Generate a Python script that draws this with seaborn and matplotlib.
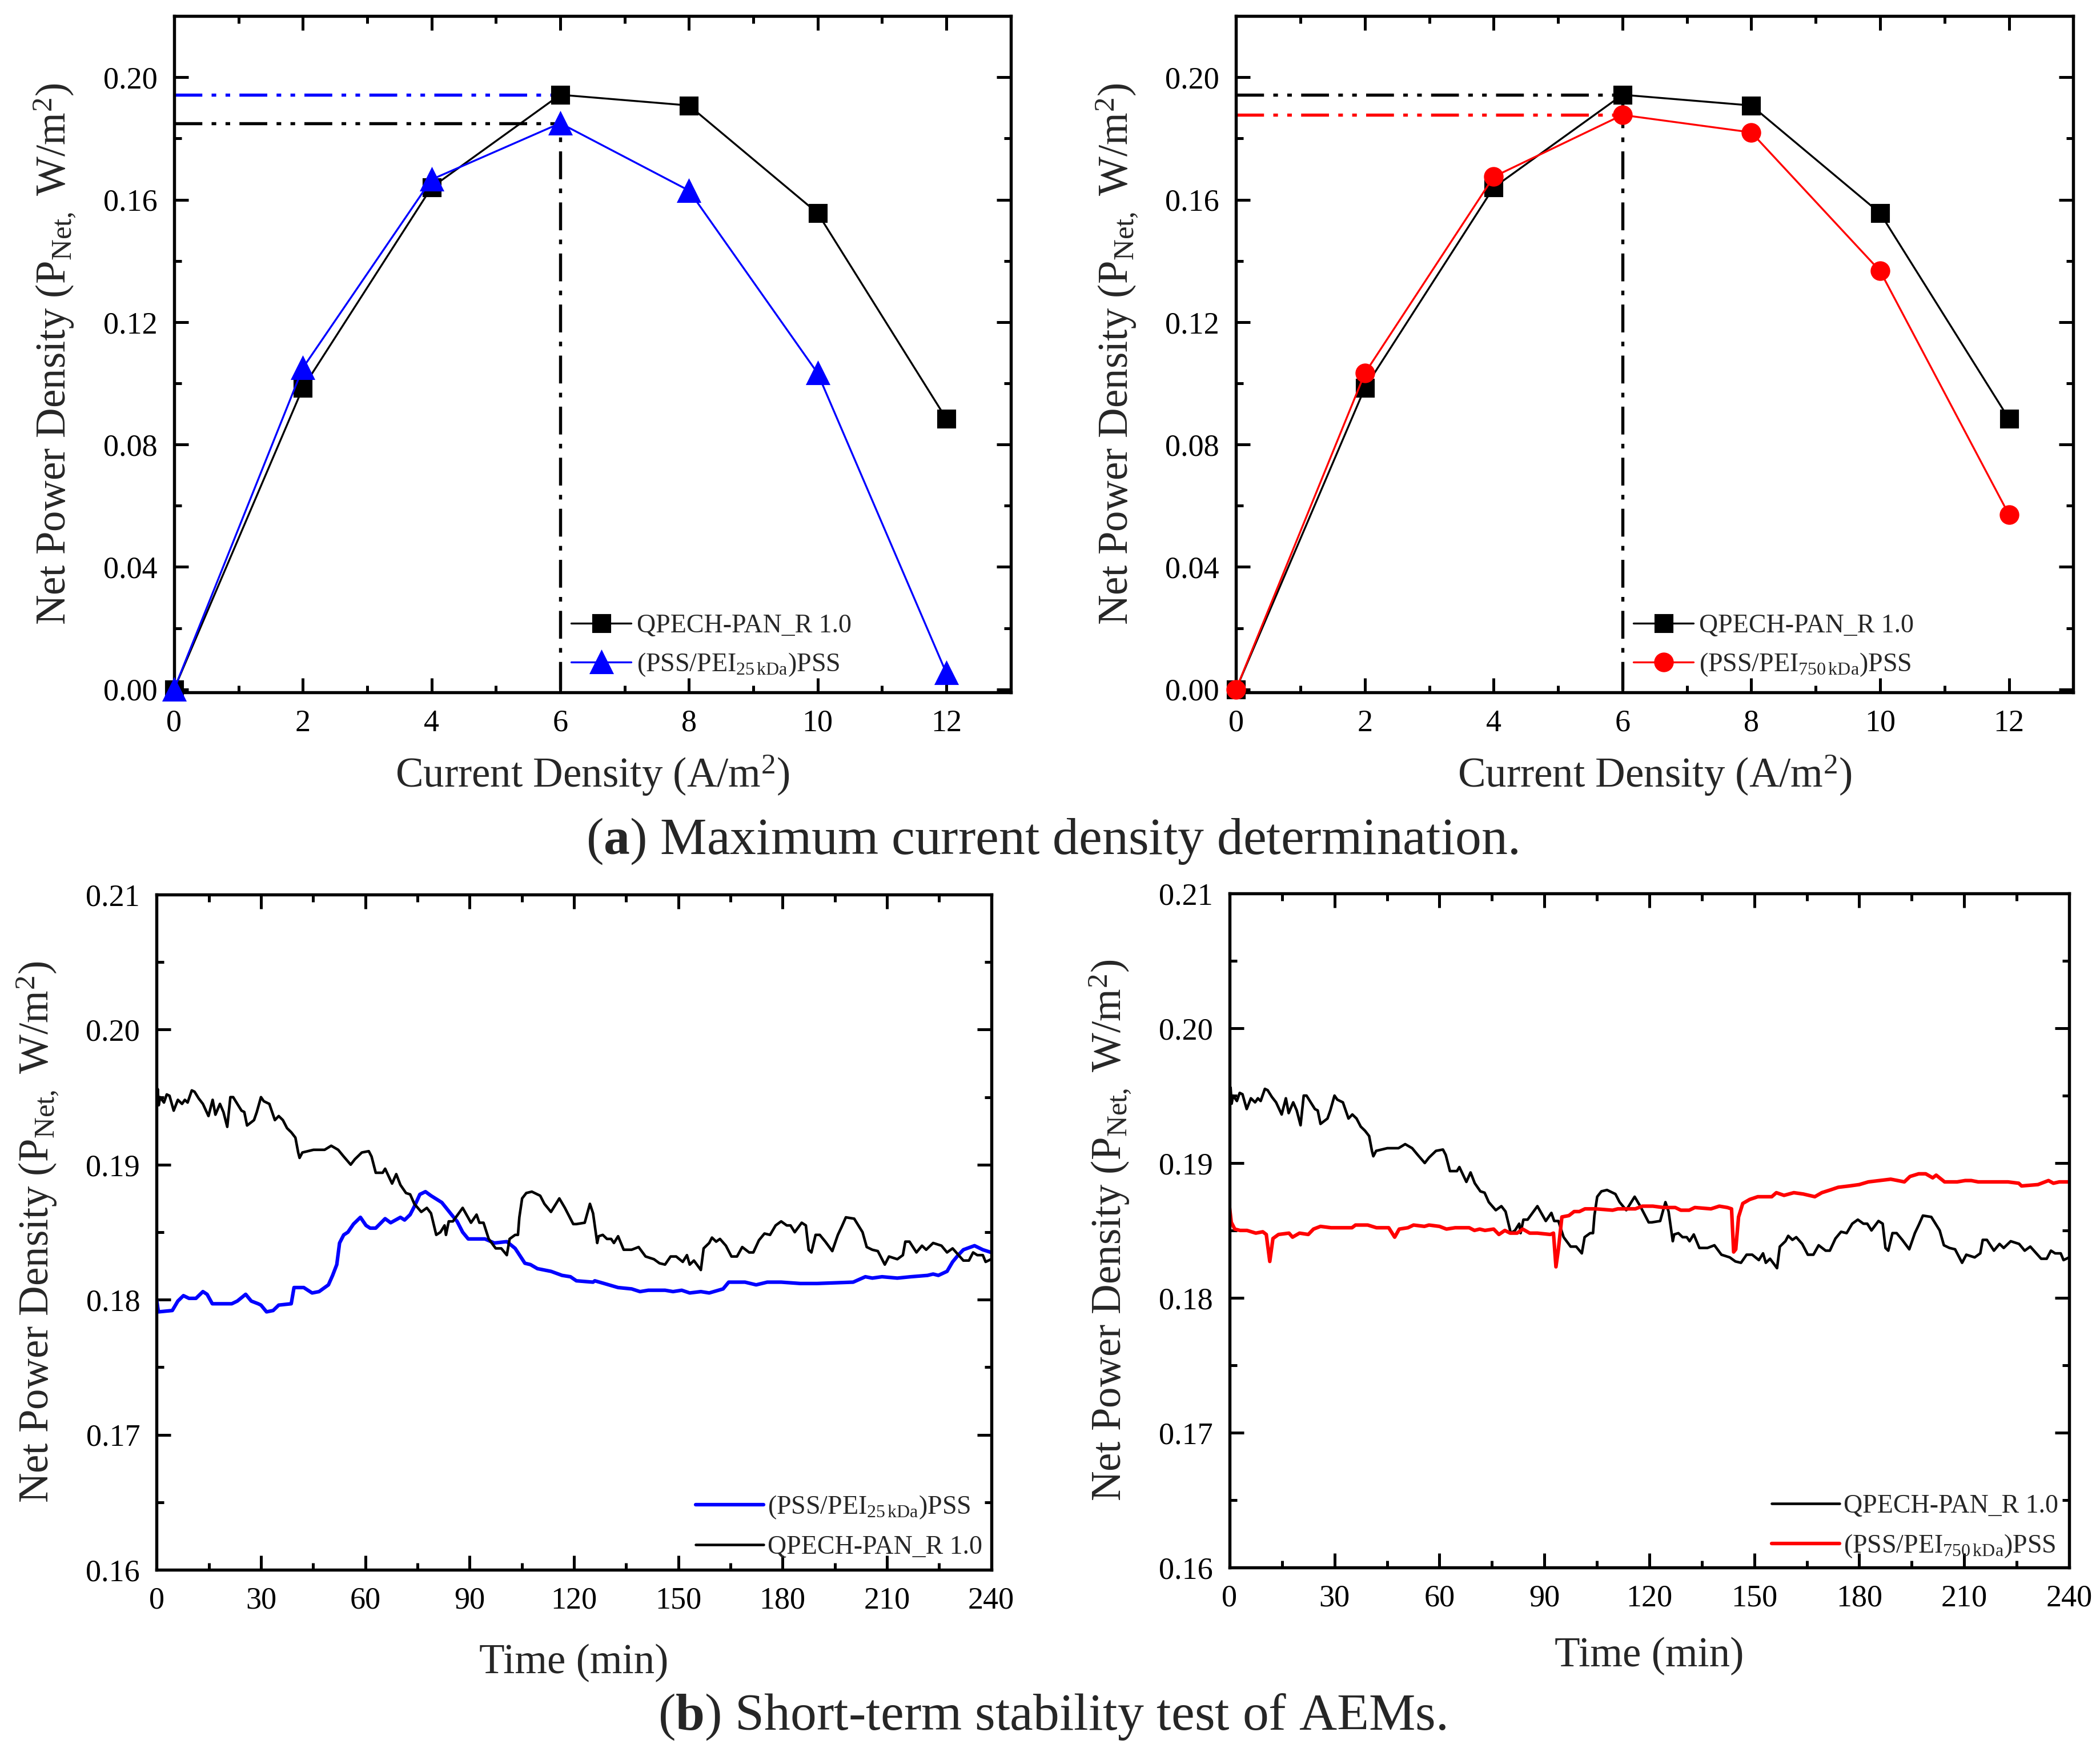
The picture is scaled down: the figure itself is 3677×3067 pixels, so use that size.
import matplotlib
matplotlib.use("Agg")
import matplotlib.pyplot as plt
import seaborn as sns
from matplotlib.ticker import MultipleLocator, AutoMinorLocator, FormatStrFormatter

# --- (a) current density sweep ---
current_density = [0, 2, 4, 6, 8, 10, 12]
qpech_power = [0.000, 0.0985, 0.1640, 0.1943, 0.1908, 0.1556, 0.0884]
pss25_power = [0.000, 0.1050, 0.1666, 0.1850, 0.1630, 0.1033, 0.0053]
pss750_power = [0.000, 0.1033, 0.1675, 0.1877, 0.1820, 0.1367, 0.0571]

# --- (b) stability test, black (QPECH-PAN_R 1.0) ---
black_time = [
    0, 0.3, 0.6, 1.0, 2.1, 2.9, 3.7, 4.9, 6.1, 7.3,
    8.1, 8.9, 10.1, 10.9, 12.1, 13.3, 14.9, 16.1, 16.9, 18.2,
    19.2, 20.3, 21.2, 22.0, 23.2, 24.4, 25.2, 26.0, 28.0, 28.8,
    30.0, 30.8, 32.4, 34.0, 35.1, 36.3, 37.5, 38.7, 39.9, 40.7,
    41.1, 41.9, 45.1, 48.3, 50.2, 52.2, 53.8, 55.8, 57.0, 59.0,
    61.0, 61.8, 63.0, 65.0, 65.7, 67.7, 68.9, 70.1, 71.7, 72.9,
    74.1, 76.1, 77.7, 78.9, 80.4, 81.6, 82.8, 83.2, 84.0, 85.2,
    88.0, 90.4, 92.0, 92.8, 94.0, 95.5, 97.5, 99.1, 100.7, 101.5,
    103.1, 103.9, 104.3, 105.1, 106.3, 107.9, 110.3, 111.5, 113.4, 115.8,
    117.4, 119.8, 120.7, 123.1, 124.6, 125.5, 126.7, 127.1, 128.3, 129.5,
    130.7, 131.5, 132.7, 134.3, 136.6, 138.6, 140.6, 143.0, 144.6, 146.2,
    147.8, 149.4, 151.3, 152.5, 153.3, 154.5, 156.5, 157.3, 158.9, 159.7,
    160.9, 162.0, 163.7, 165.3, 166.9, 168.4, 170.4, 171.6, 173.2, 174.8,
    176.4, 178.0, 179.6, 181.2, 182.3, 183.5, 185.5, 186.7, 187.5, 188.3,
    189.5, 190.7, 192.3, 194.3, 195.9, 197.0, 198.2, 200.6, 203.0, 204.2,
    205.8, 207.4, 209.4, 210.6, 213.0, 214.6, 215.3, 216.5, 218.5, 220.1,
    221.3, 223.3, 225.7, 227.3, 228.9, 232.0, 233.6, 234.8, 236.0, 237.6,
    238.4, 240.0,
]
black_power = [
    0.1940, 0.1956, 0.1944, 0.1950, 0.1946, 0.1952, 0.1951, 0.1940, 0.1948, 0.1945,
    0.1948, 0.1946, 0.1955, 0.1954, 0.1949, 0.1945, 0.1936, 0.1948, 0.1937, 0.1945,
    0.1939, 0.1928, 0.1950, 0.1950, 0.1945, 0.1940, 0.1939, 0.1929, 0.1933, 0.1939,
    0.1950, 0.1947, 0.1945, 0.1933, 0.1936, 0.1933, 0.1927, 0.1924, 0.1920, 0.1909,
    0.1905, 0.1909, 0.1911, 0.1911, 0.1914, 0.1911, 0.1906, 0.1900, 0.1904, 0.1909,
    0.1910, 0.1906, 0.1894, 0.1894, 0.1897, 0.1886, 0.1893, 0.1885, 0.1879, 0.1878,
    0.1871, 0.1865, 0.1868, 0.1864, 0.1848, 0.1850, 0.1855, 0.1848, 0.1858, 0.1858,
    0.1868, 0.1857, 0.1863, 0.1857, 0.1857, 0.1845, 0.1838, 0.1838, 0.1833, 0.1845,
    0.1848, 0.1848, 0.1861, 0.1875, 0.1879, 0.1880, 0.1877, 0.1871, 0.1865, 0.1875,
    0.1868, 0.1856, 0.1856, 0.1857, 0.1871, 0.1864, 0.1842, 0.1847, 0.1848, 0.1845,
    0.1845, 0.1842, 0.1847, 0.1837, 0.1837, 0.1839, 0.1832, 0.1830, 0.1827, 0.1826,
    0.1832, 0.1832, 0.1828, 0.1833, 0.1826, 0.1829, 0.1822, 0.1838, 0.1842, 0.1846,
    0.1843, 0.1845, 0.1840, 0.1832, 0.1832, 0.1839, 0.1835, 0.1835, 0.1844, 0.1849,
    0.1848, 0.1855, 0.1858, 0.1855, 0.1855, 0.1850, 0.1857, 0.1855, 0.1837, 0.1835,
    0.1848, 0.1848, 0.1843, 0.1836, 0.1848, 0.1854, 0.1861, 0.1860, 0.1850, 0.1839,
    0.1837, 0.1836, 0.1826, 0.1832, 0.1830, 0.1833, 0.1843, 0.1843, 0.1835, 0.1840,
    0.1837, 0.1842, 0.1840, 0.1835, 0.1838, 0.1829, 0.1829, 0.1835, 0.1833, 0.1833,
    0.1828, 0.1830,
]

# --- (b) blue, (PSS/PEI 25 kDa)PSS ---
blue_time = [
    0, 0.5, 4.5, 6.1, 7.7, 9.3, 11.3, 13.3, 14.5, 16.0,
    18.0, 21.6, 23.2, 25.6, 27.2, 29.2, 30.0, 31.6, 33.5, 35.1,
    38.7, 39.5, 42.3, 44.7, 46.7, 49.4, 50.6, 51.8, 52.6, 53.8,
    55.0, 56.6, 58.6, 60.2, 61.4, 63.0, 65.7, 67.3, 70.1, 71.3,
    72.9, 74.1, 75.7, 77.3, 78.9, 82.0, 84.8, 86.4, 88.0, 89.6,
    94.4, 97.1, 100.7, 103.1, 105.9, 107.5, 109.5, 113.4, 116.6, 119.0,
    120.7, 125.5, 126.0, 128.7, 132.7, 136.6, 139.0, 141.4, 146.2, 148.5,
    151.0, 153.3, 156.5, 158.9, 162.9, 164.5, 169.2, 172.4, 175.6, 179.6,
    185.1, 189.9, 200.3, 203.8, 205.8, 208.6, 213.0, 216.9, 221.7, 223.3,
    224.8, 227.3, 228.9, 230.5, 232.0, 235.2, 237.6, 240.0,
]
blue_power = [
    0.1800, 0.1791, 0.1792, 0.1799, 0.1803, 0.1801, 0.1801, 0.1806, 0.1804, 0.1797,
    0.1797, 0.1797, 0.1799, 0.1804, 0.1799, 0.1797, 0.1796, 0.1791, 0.1792, 0.1796,
    0.1797, 0.1809, 0.1809, 0.1805, 0.1806, 0.1811, 0.1818, 0.1826, 0.1842, 0.1848,
    0.1850, 0.1856, 0.1861, 0.1855, 0.1853, 0.1853, 0.1860, 0.1857, 0.1861, 0.1859,
    0.1863, 0.1869, 0.1878, 0.1880, 0.1877, 0.1872, 0.1863, 0.1858, 0.1850, 0.1845,
    0.1845, 0.1842, 0.1843, 0.1838, 0.1827, 0.1826, 0.1823, 0.1821, 0.1818, 0.1817,
    0.1814, 0.1813, 0.1814, 0.1812, 0.1809, 0.1808, 0.1806, 0.1807, 0.1807, 0.1806,
    0.1807, 0.1805, 0.1806, 0.1805, 0.1808, 0.1813, 0.1813, 0.1811, 0.1813, 0.1813,
    0.1812, 0.1812, 0.1813, 0.1817, 0.1816, 0.1817, 0.1816, 0.1817, 0.1818, 0.1819,
    0.1818, 0.1821, 0.1828, 0.1833, 0.1837, 0.1840, 0.1837, 0.1835,
]

# --- (b) red, (PSS/PEI 750 kDa)PSS ---
red_time = [
    0, 0.5, 1.5, 3.0, 5.0, 7.5, 9.5, 10.5, 11.5, 12.4,
    14.0, 17.0, 18.0, 20.0, 22.5, 24.0, 26.0, 29.0, 35.0, 36.0,
    39.5, 42.0, 45.5, 47.2, 48.5, 51.0, 52.6, 55.7, 57.0, 60.0,
    62.0, 64.5, 68.5, 70.0, 71.5, 73.0, 75.5, 77.0, 78.7, 80.2,
    82.2, 83.8, 85.8, 88.0, 91.7, 92.6, 93.3, 94.0, 95.0, 97.0,
    98.5, 100.0, 101.6, 104.7, 109.5, 111.0, 116.0, 118.0, 121.0, 124.0,
    127.4, 129.0, 131.4, 133.0, 137.6, 140.0, 142.3, 143.5, 144.1, 144.7,
    145.5, 146.7, 148.7, 151.0, 155.0, 156.3, 158.5, 161.3, 164.0, 167.3,
    169.3, 171.7, 174.0, 177.2, 180.0, 182.6, 185.8, 189.0, 191.0, 192.9,
    194.5, 197.0, 199.0, 201.0, 202.0, 204.4, 208.0, 210.3, 212.0, 214.0,
    218.7, 222.5, 225.6, 226.4, 231.1, 234.1, 235.5, 237.2, 240.0,
]
red_power = [
    0.1867, 0.1856, 0.1851, 0.1850, 0.1850, 0.1848, 0.1849, 0.1847, 0.1827, 0.1844,
    0.1847, 0.1848, 0.1845, 0.1848, 0.1847, 0.1851, 0.1853, 0.1852, 0.1852, 0.1854,
    0.1854, 0.1852, 0.1852, 0.1845, 0.1851, 0.1852, 0.1854, 0.1853, 0.1854, 0.1853,
    0.1851, 0.1852, 0.1852, 0.1850, 0.1851, 0.1850, 0.1851, 0.1847, 0.1850, 0.1848,
    0.1848, 0.1851, 0.1848, 0.1848, 0.1847, 0.1848, 0.1823, 0.1836, 0.1860, 0.1861,
    0.1864, 0.1864, 0.1866, 0.1866, 0.1865, 0.1866, 0.1866, 0.1868, 0.1868, 0.1867,
    0.1867, 0.1865, 0.1865, 0.1867, 0.1866, 0.1868, 0.1867, 0.1866, 0.1834, 0.1836,
    0.1860, 0.1870, 0.1873, 0.1875, 0.1875, 0.1878, 0.1876, 0.1878, 0.1877, 0.1875,
    0.1878, 0.1880, 0.1882, 0.1883, 0.1884, 0.1886, 0.1887, 0.1888, 0.1887, 0.1886,
    0.1890, 0.1892, 0.1892, 0.1889, 0.1891, 0.1886, 0.1886, 0.1887, 0.1887, 0.1886,
    0.1886, 0.1886, 0.1885, 0.1883, 0.1884, 0.1887, 0.1885, 0.1886, 0.1886,
]

LBL_Q = "QPECH-PAN_R 1.0"
LBL_25 = r"(PSS/PEI$_{\mathregular{25\,kDa}}$)PSS"
LBL_750 = r"(PSS/PEI$_{\mathregular{750\,kDa}}$)PSS"
YLABEL = r"Net Power Density (P$_{\mathregular{Net,}}$ W/m$^{\mathregular{2}}$)"

sns.set_style("ticks")
plt.rcParams["font.family"] = ["Liberation Serif", "DejaVu Serif"]
plt.rcParams["mathtext.fontset"] = "custom"
plt.rcParams["mathtext.rm"] = "Liberation Serif"
plt.rcParams["mathtext.it"] = "Liberation Serif:italic"
plt.rcParams["mathtext.bf"] = "Liberation Serif:bold"

DDOT = (0, (9, 3, 1.5, 3, 1.5, 3))
DDASH = (0, (9, 3, 1.5, 3))


def style(ax, xmaj, ymaj):
    ax.xaxis.set_major_locator(MultipleLocator(xmaj))
    ax.xaxis.set_minor_locator(AutoMinorLocator(2))
    ax.yaxis.set_major_locator(MultipleLocator(ymaj))
    ax.yaxis.set_minor_locator(AutoMinorLocator(2))
    ax.yaxis.set_major_formatter(FormatStrFormatter("%.2f"))
    ax.tick_params(which="both", direction="in", top=True, right=True,
                   width=1.2, labelsize=13, pad=7, colors="black")
    ax.tick_params(which="major", length=6)
    ax.tick_params(which="minor", length=3)
    for s in ax.spines.values():
        s.set_linewidth(1.3)
        s.set_color("black")
    ax.set_ylabel(YLABEL, fontsize=17.5, labelpad=11)


fig = plt.figure(figsize=(3677 / 300, 3067 / 300), dpi=300)
ax1 = fig.add_axes([0.0829, 0.6048, 0.3984, 0.3860])
ax2 = fig.add_axes([0.5886, 0.6048, 0.3987, 0.3860])
ax3 = fig.add_axes([0.0746, 0.1040, 0.3974, 0.3854])
ax4 = fig.add_axes([0.5855, 0.1053, 0.3998, 0.3848])

# top panels: sweep with peak guide lines
peak_x = current_density[qpech_power.index(max(qpech_power))]
panels = [
    (ax1, pss25_power, LBL_25, "blue", "^", 9, max(qpech_power), "blue", max(pss25_power)),
    (ax2, pss750_power, LBL_750, "red", "o", 7.5, max(pss750_power), "red", max(qpech_power)),
]
for ax, series, lbl, col, mk, ms, hl_col_y, hl_col, black_y in panels:
    ax.plot([0, peak_x], [hl_col_y, hl_col_y], color=hl_col, ls=DDOT, lw=1.3, zorder=1)
    ax.plot([0, peak_x], [black_y, black_y], color="black", ls=DDOT, lw=1.3, zorder=1)
    ax.plot([peak_x, peak_x], [0, black_y], color="black", ls=DDASH, lw=1.3, zorder=1)
    sns.lineplot(x=current_density, y=qpech_power, ax=ax, color="black", marker="s",
                 markersize=7, markeredgecolor="black", linewidth=0.8, label=LBL_Q,
                 clip_on=False, zorder=3)
    sns.lineplot(x=current_density, y=series, ax=ax, color=col, marker=mk,
                 markersize=ms, markeredgecolor=col, linewidth=0.8, label=lbl,
                 clip_on=False, zorder=4)
    ax.set_xlim(0, 13)
    ax.set_ylim(-0.001, 0.22)
    style(ax, 2, 0.04)
    ax.set_xlabel(r"Current Density (A/m$^{\mathregular{2}}$)", fontsize=17.5, labelpad=6)
    ax.legend(loc="lower left", bbox_to_anchor=(0.462, 0.006), frameon=False,
              fontsize=11, handlelength=2.3, handletextpad=0.2, labelspacing=0.5,
              borderaxespad=0)

# bottom panels: stability test
sns.lineplot(x=blue_time, y=blue_power, ax=ax3, color="blue", linewidth=1.5,
             estimator=None, label=LBL_25)
sns.lineplot(x=black_time, y=black_power, ax=ax3, color="black", linewidth=1.1,
             estimator=None, label=LBL_Q)
sns.lineplot(x=black_time, y=black_power, ax=ax4, color="black", linewidth=1.1,
             estimator=None, label=LBL_Q)
sns.lineplot(x=red_time, y=red_power, ax=ax4, color="red", linewidth=1.5,
             estimator=None, label=LBL_750)
for ax, pad, leg_y in ((ax3, 12, 0.0), (ax4, 10, -0.004)):
    ax.set_xlim(0, 240)
    ax.set_ylim(0.16, 0.21)
    style(ax, 30, 0.01)
    ax.set_xlabel("Time (min)", fontsize=17.5, labelpad=pad)
    ax.legend(loc="lower left", bbox_to_anchor=(0.633, leg_y), frameon=False,
              fontsize=11, handlelength=2.6, handletextpad=0.15, labelspacing=0.55,
              borderaxespad=0)

fig.text(0.501, 0.520, r"($\mathbf{a}$) Maximum current density determination.",
         ha="center", va="center", fontsize=22)
fig.text(0.501, 0.020, r"($\mathbf{b}$) Short-term stability test of AEMs.",
         ha="center", va="center", fontsize=22)

fig.savefig("out.png", dpi=300)
